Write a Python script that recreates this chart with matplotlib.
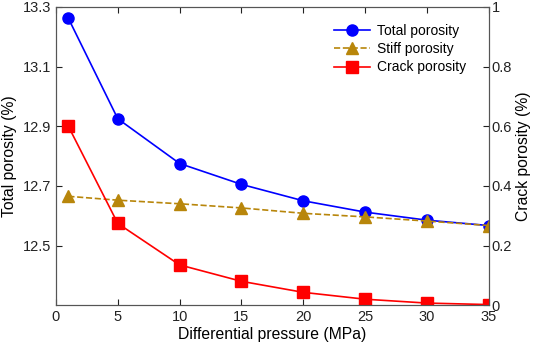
import matplotlib
matplotlib.use("Agg")
import matplotlib.pyplot as plt

plt.rcParams["font.family"] = ["Liberation Sans", "DejaVu Sans"]

pressure = [1, 5, 10, 15, 20, 25, 30, 35]
total_porosity = [13.262, 12.925, 12.775, 12.705, 12.650, 12.612, 12.585, 12.567]
stiff_porosity = [12.665, 12.652, 12.640, 12.626, 12.608, 12.596, 12.582, 12.567]
crack_porosity = [0.600, 0.274, 0.135, 0.080, 0.043, 0.020, 0.007, 0.002]

left_ticks = [12.5, 12.7, 12.9, 13.1, 13.3]
right_ticks = [0, 0.2, 0.4, 0.6, 0.8, 1]
x_ticks = [0, 5, 10, 15, 20, 25, 30, 35]

blue = "#0000FF"
gold = "#B8860B"
red = "#FF0000"
grey = "#555555"

fig = plt.figure(figsize=(5.33, 3.46), dpi=100)
ax = fig.add_axes([0.105, 0.118, 0.812, 0.862])
ax2 = ax.twinx()

l1, = ax.plot(pressure, total_porosity, "-o", color=blue, lw=1.2, ms=8, label="Total porosity")
l2, = ax.plot(pressure, stiff_porosity, "--^", color=gold, lw=1.2, ms=8, label="Stiff porosity")
l3, = ax2.plot(pressure, crack_porosity, "-s", color=red, lw=1.2, ms=8, label="Crack porosity")

ax.set_xlim(0, 35)
ax.set_ylim(12.3, 13.3)
ax2.set_ylim(0, 1)
ax.set_xticks(x_ticks)
ax.set_yticks(left_ticks)
ax.set_yticklabels([f"{t:g}" for t in left_ticks])
ax2.set_yticks(right_ticks)
ax2.set_yticklabels([f"{t:g}" for t in right_ticks])

ax.set_xlabel("Differential pressure (MPa)", fontsize=11.3, labelpad=2)
ax.set_ylabel("Total porosity (%)", fontsize=11.3, labelpad=4)
ax2.set_ylabel("Crack porosity (%)", fontsize=11.3, labelpad=3)

for a in (ax, ax2):
    a.tick_params(direction="in", length=4, labelsize=10.5, colors="#222222")
    for s in a.spines.values():
        s.set_color(grey)
ax.tick_params(top=True)
ax2.tick_params(pad=2)

ax.legend(handles=[l1, l2, l3], loc="upper right", frameon=False, fontsize=10,
          bbox_to_anchor=(0.97, 0.975), handlelength=2.6, borderaxespad=0.3,
          labelspacing=0.3, handletextpad=0.5)

fig.savefig("out.png", dpi=100)
